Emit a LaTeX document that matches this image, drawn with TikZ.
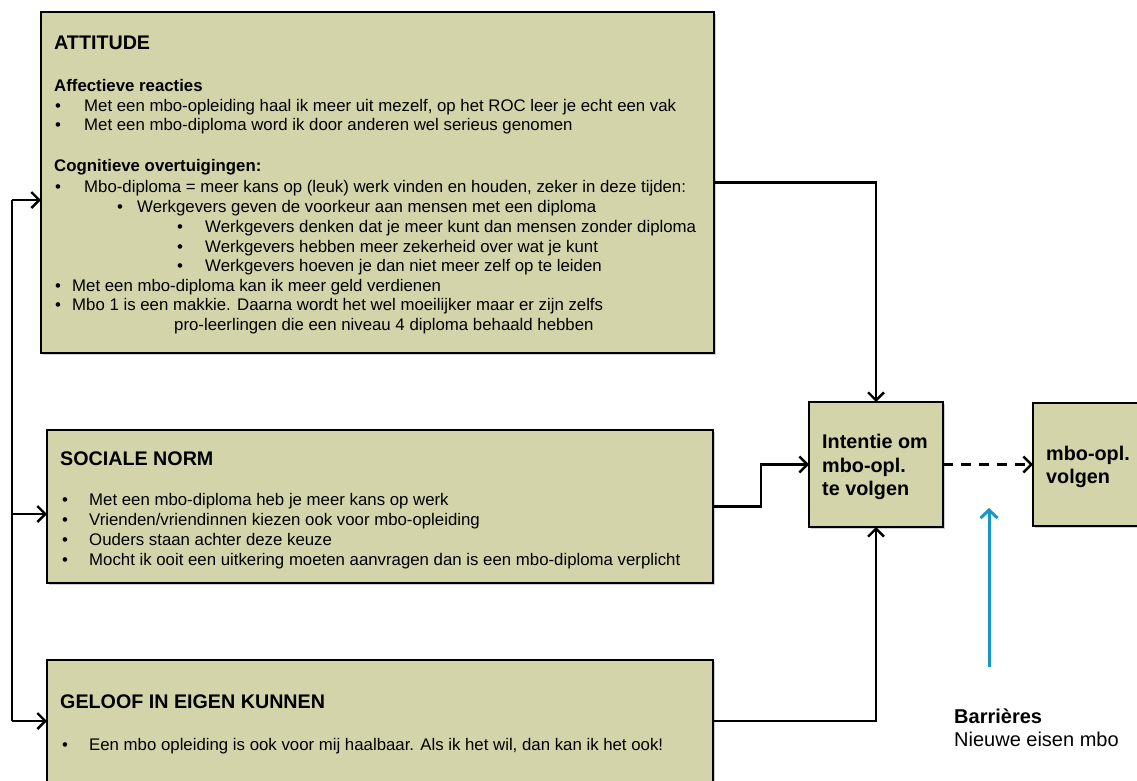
\documentclass[tikz,border=0pt]{standalone}
\usepackage{fontspec}
\setmainfont{Liberation Sans}
\usetikzlibrary{arrows.meta,shadows}
\definecolor{boxfill}{RGB}{212,212,170}
\definecolor{barblue}{RGB}{22,150,202}
\begin{document}
\begin{tikzpicture}[x=1pt,y=-1pt,
  box/.style={draw=black, line width=2.6pt, fill=boxfill, anchor=north west, inner sep=0pt, outer sep=0pt,
    drop shadow={shadow xshift=2pt, shadow yshift=-2pt, opacity=0.3, fill=black!60}},
  txt/.style={anchor=base west, inner sep=0pt, font=\fontsize{16.8}{19.7}\selectfont},
  subhd/.style={anchor=base west, inner sep=0pt, font=\fontsize{16.8}{19.7}\selectfont\bfseries},
  ttl/.style={anchor=base west, inner sep=0pt, font=\fontsize{19.7}{23}\selectfont\bfseries},
  big/.style={anchor=base west, inner sep=0pt, font=\fontsize{19.8}{23}\selectfont\bfseries},
  conn/.style={line width=2.4pt, -{Straight Barb[length=8pt,width=16pt,line width=2.4pt]}},
  plain/.style={line width=2.4pt},
  dashconn/.style={conn, dash pattern=on 10pt off 8pt},
  bluearrow/.style={draw=barblue, line width=3pt, -{Straight Barb[length=8pt,width=17pt,line width=3pt]}}
]
\useasboundingbox (0,0) rectangle (1137,781);
\clip (0,0) rectangle (1137,781);

% boxes
\node[box, minimum width=673pt, minimum height=341pt] (att) at (41,12) {};
\node[box, minimum width=666pt, minimum height=153pt] (soc) at (47,430) {};
\node[box, minimum width=666pt, minimum height=122pt] (gel) at (47,660) {};
\node[box, minimum width=134pt, minimum height=125pt] (int) at (809,402) {};
\node[box, minimum width=130pt, minimum height=123pt] (mbo) at (1033,403) {};

% ATTITUDE text
\node[ttl] (a0) at (54,50) {ATTITUDE};
\node[subhd] (a1) at (54,92) {Affectieve reacties};
\node[txt] (a2b) at (55,112) {•};
\node[txt] (a2) at (84,112) {Met een mbo-opleiding haal ik meer uit mezelf, op het ROC leer je echt een vak};
\node[txt] (a3b) at (55,131) {•};
\node[txt] (a3) at (84,131) {Met een mbo-diploma word ik door anderen wel serieus genomen};
\node[subhd] (a4) at (54,171) {Cognitieve overtuigingen:};
\node[txt] (a5b) at (55,192) {•};
\node[txt] (a5) at (84,192) {Mbo-diploma = meer kans op (leuk) werk vinden en houden, zeker in deze tijden:};
\node[txt] (a6b) at (117,212) {•};
\node[txt] (a6) at (137,212) {Werkgevers geven de voorkeur aan mensen met een diploma};
\node[txt] (a7b) at (177,232) {•};
\node[txt] (a7) at (205,232) {Werkgevers denken dat je meer kunt dan mensen zonder diploma};
\node[txt] (a8b) at (177,252) {•};
\node[txt] (a8) at (205,252) {Werkgevers hebben meer zekerheid over wat je kunt};
\node[txt] (a9b) at (177,271) {•};
\node[txt] (a9) at (205,271) {Werkgevers hoeven je dan niet meer zelf op te leiden};
\node[txt] (a10b) at (55,291) {•};
\node[txt] (a10) at (72,291) {Met een mbo-diploma kan ik meer geld verdienen};
\node[txt] (a11b) at (55,310) {•};
\node[txt] (a11) at (72,310) {Mbo 1 is een makkie. Daarna wordt het wel moeilijker maar er zijn zelfs};
\node[txt] (a12) at (174,330) {pro-leerlingen die een niveau 4 diploma behaald hebben};

% SOCIALE NORM text
\node[ttl] (s0) at (60,465) {SOCIALE NORM};
\node[txt] (s1b) at (62,505) {•};
\node[txt] (s1) at (89,505) {Met een mbo-diploma heb je meer kans op werk};
\node[txt] (s2b) at (62,525) {•};
\node[txt] (s2) at (89,525) {Vrienden/vriendinnen kiezen ook voor mbo-opleiding};
\node[txt] (s3b) at (62,545) {•};
\node[txt] (s3) at (89,545) {Ouders staan achter deze keuze};
\node[txt] (s4b) at (62,565) {•};
\node[txt] (s4) at (89,565) {Mocht ik ooit een uitkering moeten aanvragen dan is een mbo-diploma verplicht};

% GELOOF text
\node[ttl] (g0) at (60,708) {GELOOF IN EIGEN KUNNEN};
\node[txt] (g1b) at (62,750) {•};
\node[txt] (g1) at (89,750) {Een mbo opleiding is ook voor mij haalbaar. Als ik het wil, dan kan ik het ook!};

% Intentie / mbo text
\node[big] (i1) at (822,448) {Intentie om};
\node[big] (i2) at (822,472) {mbo-opl.};
\node[big] (i3) at (822,495) {te volgen};
\node[big] (m1) at (1046,460) {mbo-opl.};
\node[big] (m2) at (1046,483) {volgen};

% Barrieres
\node[big, font=\fontsize{20}{23}\selectfont\bfseries] (b1) at (954,723) {Barrières};
\node[big, font=\fontsize{20}{23}\selectfont] (b2) at (954,746) {Nieuwe eisen mbo};

% left feedback line
\coordinate (lt) at (12,200);
\coordinate (lm) at (12,514);
\coordinate (lb) at (12,721);
\draw[plain] (lt) -- (lb);
\draw[conn] (lt) -- (att.west |- lt);
\draw[conn] (lm) -- (soc.west |- lm);
\draw[conn] (lb) -- (gel.west |- lb);

% connectors to intention
\draw[conn] (att.east) -| (int.north);
\draw[conn] (soc.east) -- ++(48,0) |- (int.west);
\draw[conn] (gel.east |- 0,721) -| (int.south);
\draw[dashconn] (int.east) -- (mbo.west);

% barrier arrow
\coordinate (bbot) at (989,667);
\coordinate (btop) at (989,508);
\draw[bluearrow] (bbot) -- (btop);
\end{tikzpicture}
\end{document}
